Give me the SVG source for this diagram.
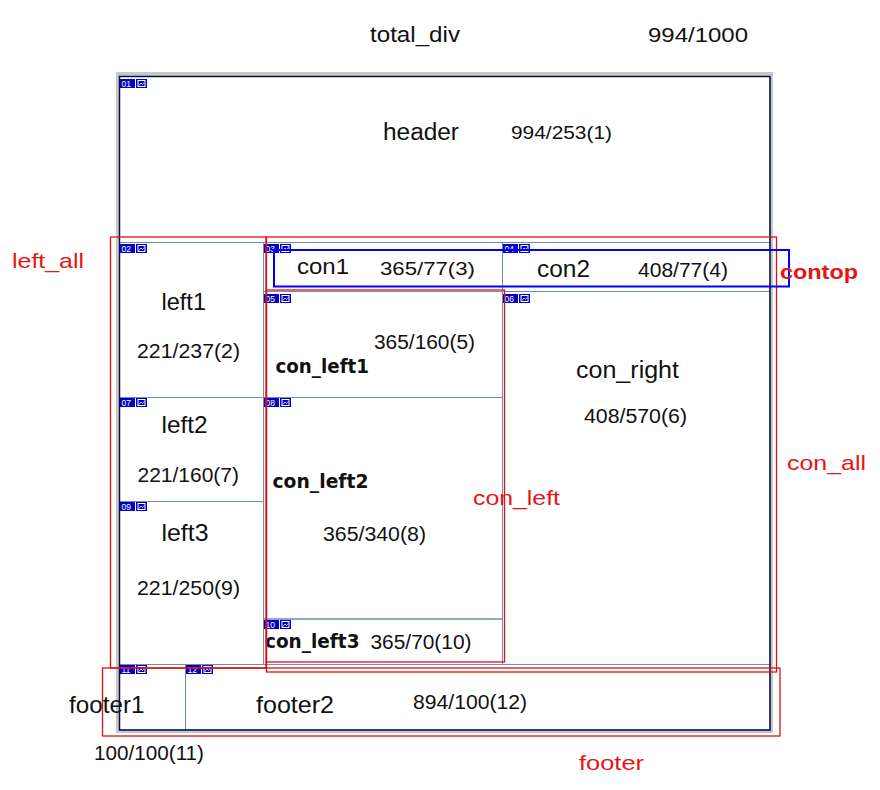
<svg xmlns="http://www.w3.org/2000/svg" xmlns:xlink="http://www.w3.org/1999/xlink" width="880" height="790" viewBox="0 0 880 790">
<style>
.cell{fill:none;stroke:#6b8fb8;stroke-width:1}
.red{fill:none;stroke:#e01010;stroke-width:1.3}
.tb{fill:#0000c8}
.tn{font-family:"Liberation Sans",Arial,sans-serif;font-size:8.5px;fill:#fff}
.t{font-family:"Liberation Sans",Arial,sans-serif;fill:#111}
.b{font-family:"DejaVu Sans","Liberation Sans",sans-serif;font-weight:bold;fill:#111}
.r{font-family:"Liberation Sans",Arial,sans-serif;fill:#e81414}
</style>
<defs>
<g id="ico"><rect x="2" y="1.5" width="7" height="6" fill="none" stroke="#fff" stroke-width="1"/><path d="M3 6.5 L5 4 L6.5 5.5 L8 3.5" fill="none" stroke="#fff" stroke-width="0.8"/></g>
</defs>
<rect width="880" height="790" fill="#fff"/>
<text class="t" x="370" y="41.5" font-size="22" textLength="90" lengthAdjust="spacingAndGlyphs">total_div</text>
<text class="t" x="648" y="41.5" font-size="21" textLength="100" lengthAdjust="spacingAndGlyphs">994/1000</text>
<g id="total_div">
<rect x="116" y="72" width="657" height="661" fill="#c8c8c8"/>
<rect x="119.5" y="76.5" width="650.5" height="653.5" fill="#fff"/>
</g>
<g id="header"><rect class="cell" x="119.5" y="76.5" width="650.5" height="166"/>
<text class="t" x="383" y="140" font-size="23" textLength="76" lengthAdjust="spacingAndGlyphs">header</text>
<text class="t" x="511" y="138.5" font-size="19" textLength="101" lengthAdjust="spacingAndGlyphs">994/253(1)</text></g>
<g id="left1"><rect class="cell" x="119.5" y="242.5" width="144" height="155"/>
<text class="t" x="161.5" y="310" font-size="24" textLength="44.5" lengthAdjust="spacingAndGlyphs">left1</text>
<text class="t" x="137" y="357.5" font-size="21" textLength="103" lengthAdjust="spacingAndGlyphs">221/237(2)</text></g>
<g id="left2"><rect class="cell" x="119.5" y="397.5" width="144" height="104"/>
<text class="t" x="161.5" y="432.5" font-size="24" textLength="46" lengthAdjust="spacingAndGlyphs">left2</text>
<text class="t" x="137.5" y="481.5" font-size="21" textLength="101.5" lengthAdjust="spacingAndGlyphs">221/160(7)</text></g>
<g id="left3"><rect class="cell" x="119.5" y="501.5" width="144" height="163"/>
<text class="t" x="161.5" y="541" font-size="24" textLength="47" lengthAdjust="spacingAndGlyphs">left3</text>
<text class="t" x="137" y="595" font-size="21" textLength="103" lengthAdjust="spacingAndGlyphs">221/250(9)</text></g>
<g id="con1"><rect class="cell" x="263.5" y="242.5" width="239" height="49"/>
<text class="t" x="297" y="273.5" font-size="22" textLength="52" lengthAdjust="spacingAndGlyphs">con1</text>
<text class="t" x="380" y="275" font-size="19" textLength="95" lengthAdjust="spacingAndGlyphs">365/77(3)</text></g>
<g id="con2"><rect class="cell" x="502.5" y="242.5" width="267.5" height="49"/>
<text class="t" x="537" y="276.5" font-size="23" textLength="53" lengthAdjust="spacingAndGlyphs">con2</text>
<text class="t" x="638" y="277" font-size="20" textLength="90" lengthAdjust="spacingAndGlyphs">408/77(4)</text></g>
<g id="con_left1"><rect class="cell" x="263.5" y="291.5" width="239" height="106"/>
<text class="t" x="374" y="349" font-size="20" textLength="101" lengthAdjust="spacingAndGlyphs">365/160(5)</text>
<text class="b" x="275.5" y="373.3" font-size="19" textLength="93.5" lengthAdjust="spacingAndGlyphs">con_left1</text></g>
<g id="con_left2"><rect class="cell" x="263.5" y="397.5" width="239" height="221.5"/>
<text class="b" x="272.5" y="488.3" font-size="19" textLength="96" lengthAdjust="spacingAndGlyphs">con_left2</text>
<text class="t" x="323" y="541" font-size="20" textLength="103" lengthAdjust="spacingAndGlyphs">365/340(8)</text></g>
<g id="con_left3"><rect class="cell" x="263.5" y="619" width="239" height="45.5"/>
<text class="b" x="265" y="648.3" font-size="19" textLength="94.5" lengthAdjust="spacingAndGlyphs">con_left3</text>
<text class="t" x="370.5" y="649" font-size="20" textLength="101" lengthAdjust="spacingAndGlyphs">365/70(10)</text></g>
<g id="con_right"><rect class="cell" x="502.5" y="291.5" width="267.5" height="373"/>
<text class="t" x="576" y="378" font-size="23" textLength="103" lengthAdjust="spacingAndGlyphs">con_right</text>
<text class="t" x="584" y="423" font-size="20" textLength="103" lengthAdjust="spacingAndGlyphs">408/570(6)</text></g>
<g id="footer1"><rect class="cell" x="119.5" y="664.5" width="66" height="65.5"/>
<text class="t" x="69" y="713.3" font-size="24" textLength="75.5" lengthAdjust="spacingAndGlyphs">footer1</text>
<text class="t" x="94" y="759.5" font-size="21" textLength="110" lengthAdjust="spacingAndGlyphs">100/100(11)</text></g>
<g id="footer2"><rect class="cell" x="185.5" y="664.5" width="584.5" height="65.5"/>
<text class="t" x="256" y="713.3" font-size="24" textLength="78" lengthAdjust="spacingAndGlyphs">footer2</text>
<text class="t" x="413" y="709" font-size="20" textLength="114" lengthAdjust="spacingAndGlyphs">894/100(12)</text></g>
<rect x="119.5" y="76.5" width="650.5" height="653.5" fill="none" stroke="#0a1040" stroke-width="1.5"/>
<g id="tags">
<g transform="translate(120,79)"><rect class="tb" width="15" height="9"/><rect class="tb" x="16" width="11" height="9"/><text class="tn" x="1.5" y="7.8">01</text><use xlink:href="#ico" x="16"/></g>
<g transform="translate(120,244)"><rect class="tb" width="15" height="9"/><rect class="tb" x="16" width="11" height="9"/><text class="tn" x="1.5" y="7.8">02</text><use xlink:href="#ico" x="16"/></g>
<g transform="translate(264,244)"><rect class="tb" width="15" height="9"/><rect class="tb" x="16" width="11" height="9"/><text class="tn" x="1.5" y="7.8">03</text><use xlink:href="#ico" x="16"/></g>
<g transform="translate(503,244)"><rect class="tb" width="15" height="9"/><rect class="tb" x="16" width="11" height="9"/><text class="tn" x="1.5" y="7.8">04</text><use xlink:href="#ico" x="16"/></g>
<g transform="translate(264,294)"><rect class="tb" width="15" height="9"/><rect class="tb" x="16" width="11" height="9"/><text class="tn" x="1.5" y="7.8">05</text><use xlink:href="#ico" x="16"/></g>
<g transform="translate(503,294)"><rect class="tb" width="15" height="9"/><rect class="tb" x="16" width="11" height="9"/><text class="tn" x="1.5" y="7.8">06</text><use xlink:href="#ico" x="16"/></g>
<g transform="translate(120,398)"><rect class="tb" width="15" height="9"/><rect class="tb" x="16" width="11" height="9"/><text class="tn" x="1.5" y="7.8">07</text><use xlink:href="#ico" x="16"/></g>
<g transform="translate(264,398)"><rect class="tb" width="15" height="9"/><rect class="tb" x="16" width="11" height="9"/><text class="tn" x="1.5" y="7.8">08</text><use xlink:href="#ico" x="16"/></g>
<g transform="translate(120,502)"><rect class="tb" width="15" height="9"/><rect class="tb" x="16" width="11" height="9"/><text class="tn" x="1.5" y="7.8">09</text><use xlink:href="#ico" x="16"/></g>
<g transform="translate(264,620)"><rect class="tb" width="15" height="9"/><rect class="tb" x="16" width="11" height="9"/><text class="tn" x="1.5" y="7.8">10</text><use xlink:href="#ico" x="16"/></g>
<g transform="translate(120,665)"><rect class="tb" width="15" height="9"/><rect class="tb" x="16" width="11" height="9"/><text class="tn" x="1.5" y="7.8">11</text><use xlink:href="#ico" x="16"/></g>
<g transform="translate(186,665)"><rect class="tb" width="15" height="9"/><rect class="tb" x="16" width="11" height="9"/><text class="tn" x="1.5" y="7.8">12</text><use xlink:href="#ico" x="16"/></g>
</g>
<g id="left_all"><rect class="red" x="110.5" y="237" width="155.5" height="431"/>
<text class="r" x="12" y="267.5" font-size="21" textLength="72" lengthAdjust="spacingAndGlyphs">left_all</text></g>
<g id="con_all"><rect class="red" x="266.5" y="237" width="510" height="435"/>
<text class="r" x="787" y="470" font-size="21" textLength="79" lengthAdjust="spacingAndGlyphs">con_all</text></g>
<g id="con_left"><rect class="red" x="266.5" y="290" width="238" height="372"/>
<text class="r" x="473" y="505" font-size="21" textLength="87" lengthAdjust="spacingAndGlyphs">con_left</text></g>
<g id="footer"><rect class="red" x="102.5" y="668" width="677.5" height="68"/>
<text class="r" x="579" y="770" font-size="21" textLength="65" lengthAdjust="spacingAndGlyphs">footer</text></g>
<g id="contop"><rect x="274" y="250" width="515" height="36.5" fill="none" stroke="#0000ff" stroke-width="2"/>
<text class="r" x="780" y="279" font-size="21" font-weight="bold" textLength="78" lengthAdjust="spacingAndGlyphs">contop</text></g>
</svg>
